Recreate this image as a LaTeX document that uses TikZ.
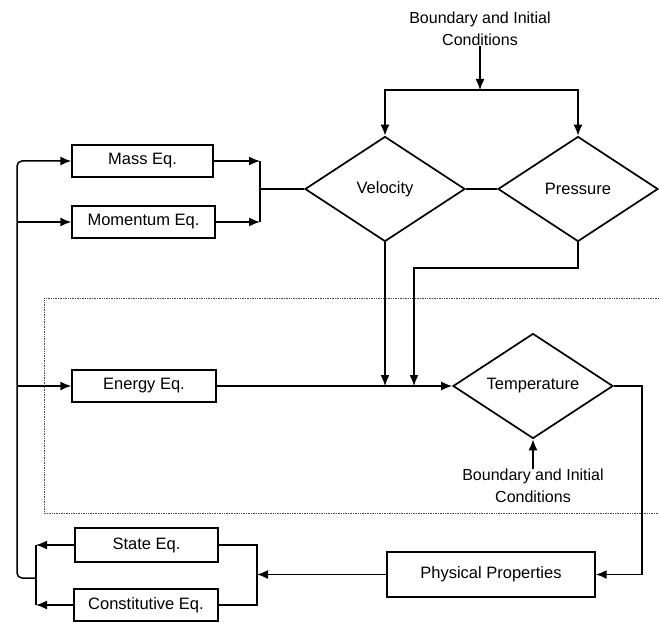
\documentclass[tikz,border=0pt]{standalone}
\usepackage{fontspec}
\setmainfont{Liberation Sans}
\usepackage{tikz}
\usetikzlibrary{arrows.meta}
\usetikzlibrary{shapes.geometric}
\usetikzlibrary{positioning}
\tikzstyle{eqbox} = [rectangle, draw, line width=1.4pt, minimum height=32pt, inner sep=0pt]
\tikzstyle{unknown} = [diamond, draw, line width=1.7pt, aspect=1.52, minimum width=160pt, minimum height=105pt, inner sep=0pt]
\tikzstyle{cond} = [align=center, inner sep=0pt, font=\fontsize{16}{22}\selectfont]
\tikzstyle{line} = [draw, line width=1.5pt, -{Latex[length=11pt,width=9pt]}]
\tikzstyle{wire} = [draw, line width=1.5pt]
\begin{document}
\begin{tikzpicture}[x=1pt, y=-1pt, font=\fontsize{16.5}{20}\selectfont]
	\useasboundingbox (0,0) rectangle (659,623);
	% frame of the energy loop
	\draw [dash pattern=on 1pt off 0.7pt, line width=1pt, black!70] (659,298) -- (44,298) -- (44,513) -- (659,513);
	% nodes
	\node [cond] at (480,29) (bicTop) {Boundary and Initial\\Conditions};
	\node [unknown] at (385,189) (vel) {Velocity};
	\node [unknown] at (578,189) (pres) {Pressure};
	\node [unknown] at (533,386) (temp) {Temperature};
	\node [cond] at (533,486) (bicBot) {Boundary and Initial\\Conditions};
	\node [eqbox, minimum width=141pt] at (142.5,161) (mass) {Mass Eq.};
	\node [eqbox, minimum width=143pt] at (143.5,222) (mom) {Momentum Eq.};
	\node [eqbox, minimum width=144pt] at (144,386) (energy) {Energy Eq.};
	\node [eqbox, minimum width=143pt, minimum height=34pt] at (146.5,545) (state) {State Eq.};
	\node [eqbox, minimum width=144pt] at (146,605) (const) {Constitutive Eq.};
	\node [eqbox, minimum width=208pt, minimum height=45pt] at (491,574.5) (phys) {Physical Properties};
	% junctions
	\coordinate (jTop) at (480,90);
	\coordinate (jMerge) at (260,189);
	\coordinate (busL) at (17,578);
	\coordinate (jLow) at (36,578);
	\coordinate (jRight) at (257,574.5);
	\coordinate (pBend) at (414,268);
	\coordinate (cR) at (642,0);
	% boundary conditions to velocity and pressure
	\path [line] (bicTop) -- (jTop);
	\path [line] (jTop) -| (vel.north);
	\path [line] (jTop) -| (pres.north);
	\path [wire] (vel.east) -- (pres.west);
	% mass and momentum
	\path [line] (mass.east) -- (mass.east -| jMerge);
	\path [line] (mom.east) -- (mom.east -| jMerge);
	\path [wire] (mass.east -| jMerge) -- (mom.east -| jMerge);
	\path [wire] (vel.west) -- (jMerge);
	% into the energy loop
	\path [line] (energy.east) -- (temp.west);
	\path [line] (vel.south) -- (vel.south |- energy.east);
	\path [line] (pres.south) |- (pBend) -- (pBend |- energy.east);
	\path [line] (bicBot) -- (temp.south);
	% properties
	\path [line] (temp.east) -- (temp.east -| cR) |- (phys.east);
	\path [line] (phys.west) -- (jRight);
	\path [wire] (state.east) -- (state.east -| jRight) -- (const.east -| jRight) -- (const.east);
	\path [line] (state.west) -- (state.west -| jLow);
	\path [line] (const.west) -- (const.west -| jLow);
	\path [wire] (state.west -| jLow) -- (const.west -| jLow);
	% feedback bus
	\path [line, rounded corners=5pt] (jLow) -- (busL) |- (mass.west);
	\path [line] (mom.west -| busL) -- (mom.west);
	\path [line] (energy.west -| busL) -- (energy.west);
\end{tikzpicture}
\end{document}
